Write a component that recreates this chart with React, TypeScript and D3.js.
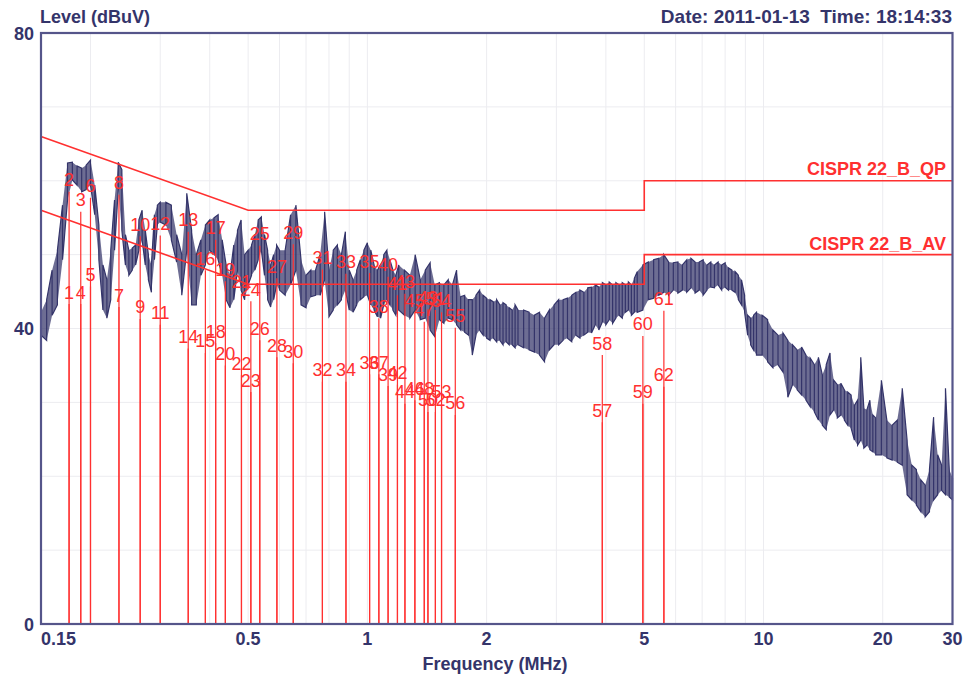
import React, { useEffect } from "react";
import * as d3 from "d3";

const traceMHz = [
  0.150, 0.155, 0.160, 0.165, 0.170, 0.175, 0.180, 0.185, 0.190, 0.195, 0.200, 0.205, 0.210, 0.215, 0.220, 0.225, 0.230, 0.235, 0.240, 0.245, 0.250, 0.255, 0.260, 0.265, 0.270, 0.275, 0.280, 0.285, 0.290, 0.295, 0.300,
  0.31, 0.32, 0.33, 0.34, 0.35, 0.36, 0.37, 0.38, 0.39, 0.40, 0.41, 0.42, 0.43, 0.44, 0.45, 0.46, 0.47, 0.48, 0.49, 0.50, 0.51, 0.52, 0.53, 0.54, 0.55, 0.56, 0.57, 0.58, 0.59, 0.60,
  0.62, 0.64, 0.66, 0.68, 0.70, 0.72, 0.74, 0.76, 0.78, 0.80, 0.82, 0.84, 0.86, 0.88, 0.90, 0.92, 0.94, 0.96, 0.98, 1.00, 1.02, 1.04, 1.06, 1.08, 1.10, 1.12, 1.14, 1.16, 1.18, 1.20,
  1.24, 1.28, 1.32, 1.36, 1.40, 1.44, 1.48, 1.52, 1.56, 1.60, 1.64, 1.68, 1.72, 1.76, 1.80, 1.84, 1.88, 1.92, 1.96, 2.00, 2.04, 2.08, 2.12, 2.16, 2.20, 2.24, 2.28, 2.32, 2.36, 2.40,
  2.48, 2.56, 2.64, 2.72, 2.80, 2.88, 2.96, 3.04, 3.12, 3.20, 3.28, 3.36, 3.44, 3.52, 3.60, 3.68, 3.76, 3.84, 3.92, 4.00, 4.08, 4.16, 4.24, 4.32, 4.40, 4.48, 4.56, 4.64, 4.72, 4.80,
  4.96, 5.12, 5.28, 5.44, 5.60, 5.76, 5.92, 6.08, 6.24, 6.40, 6.56, 6.72, 6.88, 7.04, 7.20, 7.36, 7.52, 7.68, 7.84, 8.00, 8.16, 8.32, 8.48, 8.64, 8.80, 8.96, 9.12, 9.28, 9.44, 9.60,
  9.92, 10.24, 10.56, 10.88, 11.20, 11.52, 11.84, 12.16, 12.48, 12.80, 13.12, 13.44, 13.76, 14.08, 14.40, 14.72, 15.04, 15.36, 15.68, 16.00, 16.32, 16.64, 16.96, 17.28, 17.60, 17.92, 18.24, 18.56, 18.88, 19.20,
  19.84, 20.48, 21.12, 21.76, 22.40, 23.04, 23.68, 24.32, 24.96, 25.60, 26.24, 26.88, 27.52, 28.16, 28.80, 29.44, 30.00,
];

const traceMax = [
  42.2, 43.9, 47.9, 50.6, 56.7, 62.4, 62.5, 62.0, 61.7, 62.1, 62.8, 59.4, 54.0, 48.6, 46.6, 50.6, 57.4, 62.5, 61.5, 52.7, 50.6, 50.9, 51.3, 54.7, 56.0, 53.3, 50.0, 48.6, 55.4, 56.7, 57.1,
  57.1, 56.7, 52.7, 50.0, 58.3, 53.3, 50.0, 52.0, 54.0, 54.7, 55.0, 55.4, 52.0, 48.6, 47.2, 51.3, 53.3, 54.7, 50.0, 50.6, 51.3, 52.7, 54.7, 55.1, 52.7, 50.6, 48.6, 50.0, 51.3, 50.6,
  50.6, 55.4, 56.7, 49.3, 47.2, 47.9, 47.9, 50.0, 55.8, 47.9, 50.6, 51.3, 50.0, 53.1, 47.9, 46.6, 47.9, 49.3, 50.6, 51.6, 50.6, 48.6, 47.9, 48.6, 50.0, 50.6, 49.3, 47.9, 47.2, 48.6,
  47.9, 47.2, 50.0, 46.6, 47.9, 48.9, 45.9, 46.2, 45.9, 46.6, 45.9, 47.9, 44.3, 44.5, 43.9, 43.9, 44.5, 45.2, 44.5, 44.1, 43.9, 43.6, 43.9, 43.2, 43.5, 43.2, 42.8, 42.5, 43.2, 42.5,
  42.5, 42.2, 41.8, 42.2, 41.4, 42.5, 43.2, 43.9, 43.9, 44.1, 44.5, 44.9, 45.2, 44.9, 45.5, 45.6, 45.9, 45.6, 46.2, 45.9, 46.3, 45.9, 46.2, 45.9, 46.2, 45.9, 46.3, 45.9, 46.8, 47.7,
  48.6, 49.0, 49.3, 49.5, 50.0, 49.0, 48.9, 49.0, 48.6, 49.3, 49.5, 49.0, 49.0, 49.3, 48.6, 49.0, 48.6, 49.0, 48.6, 48.9, 48.2, 47.9, 47.7, 47.2, 46.6, 44.5, 41.8, 41.4, 41.8, 42.2,
  41.8, 41.2, 39.8, 39.1, 39.4, 38.4, 37.8, 37.1, 37.5, 36.4, 36.0, 35.1, 36.1, 33.7, 35.1, 36.7, 33.0, 32.4, 32.6, 31.7, 31.4, 31.0, 29.6, 30.3, 36.1, 29.2, 29.0, 30.3, 28.3, 27.9,
  33.0, 27.6, 26.9, 27.6, 31.9, 24.9, 21.5, 20.9, 19.5, 18.8, 20.9, 28.0, 22.9, 21.5, 31.9, 20.9, 19.8,
];

const traceMin = [
  39.1, 38.4, 41.8, 43.2, 49.3, 57.4, 60.1, 59.4, 58.5, 58.8, 59.4, 55.4, 49.3, 42.5, 41.4, 43.9, 50.6, 58.8, 53.3, 48.6, 47.2, 47.9, 48.6, 50.6, 52.0, 48.6, 46.6, 44.9, 49.3, 54.0, 54.4,
  54.0, 52.0, 49.0, 44.5, 50.6, 43.2, 43.2, 47.2, 48.6, 50.6, 50.0, 49.3, 47.2, 43.9, 42.8, 43.9, 47.9, 45.2, 43.9, 45.9, 47.2, 47.9, 49.3, 50.6, 47.2, 43.9, 42.9, 43.9, 45.9, 45.2,
  44.5, 45.9, 47.9, 43.2, 42.8, 44.3, 44.5, 44.5, 46.6, 41.6, 42.5, 43.2, 43.9, 45.2, 42.5, 42.2, 43.2, 43.9, 44.3, 44.5, 43.2, 42.5, 41.6, 41.4, 43.2, 43.9, 43.2, 42.5, 41.8, 42.5,
  41.8, 41.4, 42.5, 41.2, 41.4, 39.8, 38.9, 41.2, 40.7, 41.4, 41.2, 40.5, 39.8, 39.5, 39.1, 36.4, 39.1, 39.8, 39.1, 38.7, 38.4, 38.7, 38.2, 38.4, 37.8, 38.2, 37.8, 37.8, 37.4, 37.8,
  37.4, 37.1, 36.8, 36.4, 35.5, 37.1, 37.8, 37.8, 38.4, 38.7, 38.2, 39.1, 38.7, 39.1, 39.5, 39.4, 40.5, 39.8, 40.9, 40.5, 41.2, 40.7, 41.4, 41.8, 41.4, 42.2, 42.5, 41.8, 42.2, 42.2,
  42.5, 43.9, 44.1, 44.5, 44.9, 44.5, 45.2, 44.8, 45.2, 44.9, 45.5, 44.8, 45.2, 44.5, 45.2, 45.6, 45.5, 45.9, 45.2, 45.6, 45.2, 45.2, 44.9, 43.9, 43.2, 42.2, 39.1, 37.8, 37.1, 36.4,
  36.4, 35.5, 34.7, 35.1, 34.1, 30.7, 32.4, 31.7, 31.0, 30.3, 29.4, 28.7, 27.6, 26.9, 26.3, 28.3, 29.0, 27.9, 28.3, 27.6, 26.9, 26.5, 24.9, 24.2, 24.9, 23.8, 24.2, 23.6, 23.3, 22.9,
  22.9, 22.5, 22.2, 21.9, 21.5, 17.5, 16.8, 16.1, 15.2, 14.5, 15.2, 16.8, 17.5, 18.1, 17.5, 17.2, 16.8,
];

const markerMHz = [
  0.1766, 0.1766, 0.189, 0.189, 0.2, 0.2, 0.236, 0.236, 0.267, 0.267, 0.3, 0.3, 0.353, 0.353, 0.39, 0.39,
  0.414, 0.414, 0.438, 0.438, 0.481, 0.481, 0.508, 0.508, 0.535, 0.535, 0.591, 0.591, 0.65, 0.65, 0.77, 0.77,
  0.883, 0.883, 1.013, 1.013, 1.069, 1.069, 1.128, 1.128, 1.191, 1.191, 1.244, 1.244, 1.318, 1.318,
  1.392, 1.392, 1.422, 1.422, 1.485, 1.485, 1.539, 1.539, 1.667, 1.667, 3.918, 3.918, 4.96, 4.96, 5.604, 5.604,
];

const markerLevel = [
  43.3, 58.5, 55.8, 43.3, 45.7, 57.7, 42.9, 58.1, 41.3, 52.5, 40.5, 52.6, 53.1, 37.3, 36.7, 47.9,
  52.0, 38.0, 46.4, 35.0, 44.7, 33.7, 31.4, 43.7, 51.2, 38.4, 46.8, 36.1, 51.4, 35.3, 48.0, 32.8,
  47.4, 32.8, 47.5, 33.8, 33.8, 41.4, 32.2, 47.0, 44.5, 32.4, 44.7, 29.8, 42.2, 30.3,
  40.9, 30.3, 42.6, 28.7, 42.5, 28.7, 29.8, 42.2, 40.1, 28.3, 27.3, 36.4, 29.8, 39.0, 42.4, 32.1,
];

const qpMHz = [0.15, 0.5, 5, 5, 30];
const qpLevel = [66, 56, 56, 60, 60];
const avMHz = [0.15, 0.5, 5, 5, 30];
const avLevel = [56, 46, 46, 50, 50];

const xTickValues = [0.15, 0.5, 1, 2, 5, 10, 20, 30];
const xTickLabels = ["0.15", "0.5", "1", "2", "5", "10", "20", "30"];
const yTickValues = [0, 40, 80];
const xGridValues = [0.2, 0.3, 0.4, 0.5, 0.6, 0.7, 0.8, 0.9, 1, 2, 3, 4, 5, 6, 7, 8, 9, 10, 20];
const yGridValues = [10, 20, 30, 40, 50, 60, 70];

const FONT = "'Liberation Sans', Arial, Helvetica, sans-serif";
const NAVY = "#34346a";
const RED = "#ff3030";

export default function App() {
  useEffect(() => {
    document.body.style.margin = "0";
  }, []);

  const x = d3.scaleLog().domain([0.15, 30]).range([41, 952.5]);
  const y = d3.scaleLinear().domain([0, 80]).range([624, 33]);

  const pts: [number, number][] = [];
  traceMHz.forEach((f, i) => {
    const a = y(traceMax[i]);
    const b = y(traceMin[i]);
    if (i % 2 === 0) {
      pts.push([x(f), a], [x(f), b]);
    } else {
      pts.push([x(f), b], [x(f), a]);
    }
  });
  const tracePath = d3.line()(pts) || "";
  const bandPath =
    d3
      .area<number>()
      .x((f) => x(f))
      .y0((_, i) => y(traceMin[i]))
      .y1((_, i) => y(traceMax[i]))(traceMHz) || "";

  const qpPath = d3.line<number>().x((f) => x(f)).y((_, i) => y(qpLevel[i]))(qpMHz) || "";
  const avPath = d3.line<number>().x((f) => x(f)).y((_, i) => y(avLevel[i]))(avMHz) || "";

  const [x0, x1] = x.range();
  const [yb, yt] = y.range();

  return (
    <svg width={973} height={677} style={{ display: "block", background: "#fff" }} fontFamily={FONT}>
      <rect x={0} y={0} width={973} height={677} fill="#fff" />
      {xGridValues.map((v) => (
        <line key={"gx" + v} x1={x(v)} x2={x(v)} y1={yt} y2={yb} stroke="#ececf0" strokeWidth={1} />
      ))}
      {yGridValues.map((v) => (
        <line key={"gy" + v} x1={x0} x2={x1} y1={y(v)} y2={y(v)} stroke="#ececf0" strokeWidth={1} />
      ))}

      <path d={bandPath} fill={NAVY} fillOpacity={0.72} stroke="none" />
      <path d={tracePath} fill="none" stroke={NAVY} strokeWidth={1.2} strokeLinejoin="miter" />

      <path d={qpPath} fill="none" stroke={RED} strokeWidth={1.6} />
      <path d={avPath} fill="none" stroke={RED} strokeWidth={1.6} />

      {markerMHz.map((f, i) => (
        <line key={"ml" + i} x1={x(f)} x2={x(f)} y1={y(markerLevel[i])} y2={yb} stroke={RED} strokeWidth={1.2} />
      ))}
      {markerMHz.map((f, i) => (
        <text
          key={"mt" + i}
          x={x(f)}
          y={y(markerLevel[i]) - 5.5}
          textAnchor="middle"
          fontSize={18}
          fill={RED}
        >
          {String(i + 1)}
        </text>
      ))}

      <text x={946} y={175} textAnchor="end" fontSize={18} fontWeight="bold" fill={RED}>
        CISPR 22_B_QP
      </text>
      <text x={946} y={250} textAnchor="end" fontSize={18} fontWeight="bold" fill={RED}>
        CISPR 22_B_AV
      </text>

      <rect x={x0} y={yt} width={x1 - x0} height={yb - yt} fill="none" stroke="#55558a" strokeWidth={2.2} />

      {yTickValues.map((v) => (
        <text key={"yt" + v} x={34} y={y(v) + 6.5} textAnchor="end" fontSize={18} fontWeight="bold" fill={NAVY}>
          {String(v)}
        </text>
      ))}
      {xTickValues.map((v, i) => (
        <text
          key={"xt" + v}
          x={i === 0 ? x0 : x(v)}
          y={645}
          textAnchor={i === 0 ? "start" : "middle"}
          fontSize={18}
          fontWeight="bold"
          fill={NAVY}
        >
          {xTickLabels[i]}
        </text>
      ))}

      <text x={495} y={670} textAnchor="middle" fontSize={18} fontWeight="bold" fill={NAVY}>
        Frequency (MHz)
      </text>
      <text x={40} y={23} textAnchor="start" fontSize={18} fontWeight="bold" fill={NAVY}>
        Level (dBuV)
      </text>
      <text x={952} y={23} textAnchor="end" fontSize={19} fontWeight="bold" fill={NAVY}>
        {"Date: 2011-01-13\u00a0\u00a0Time: 18:14:33"}
      </text>
    </svg>
  );
}
